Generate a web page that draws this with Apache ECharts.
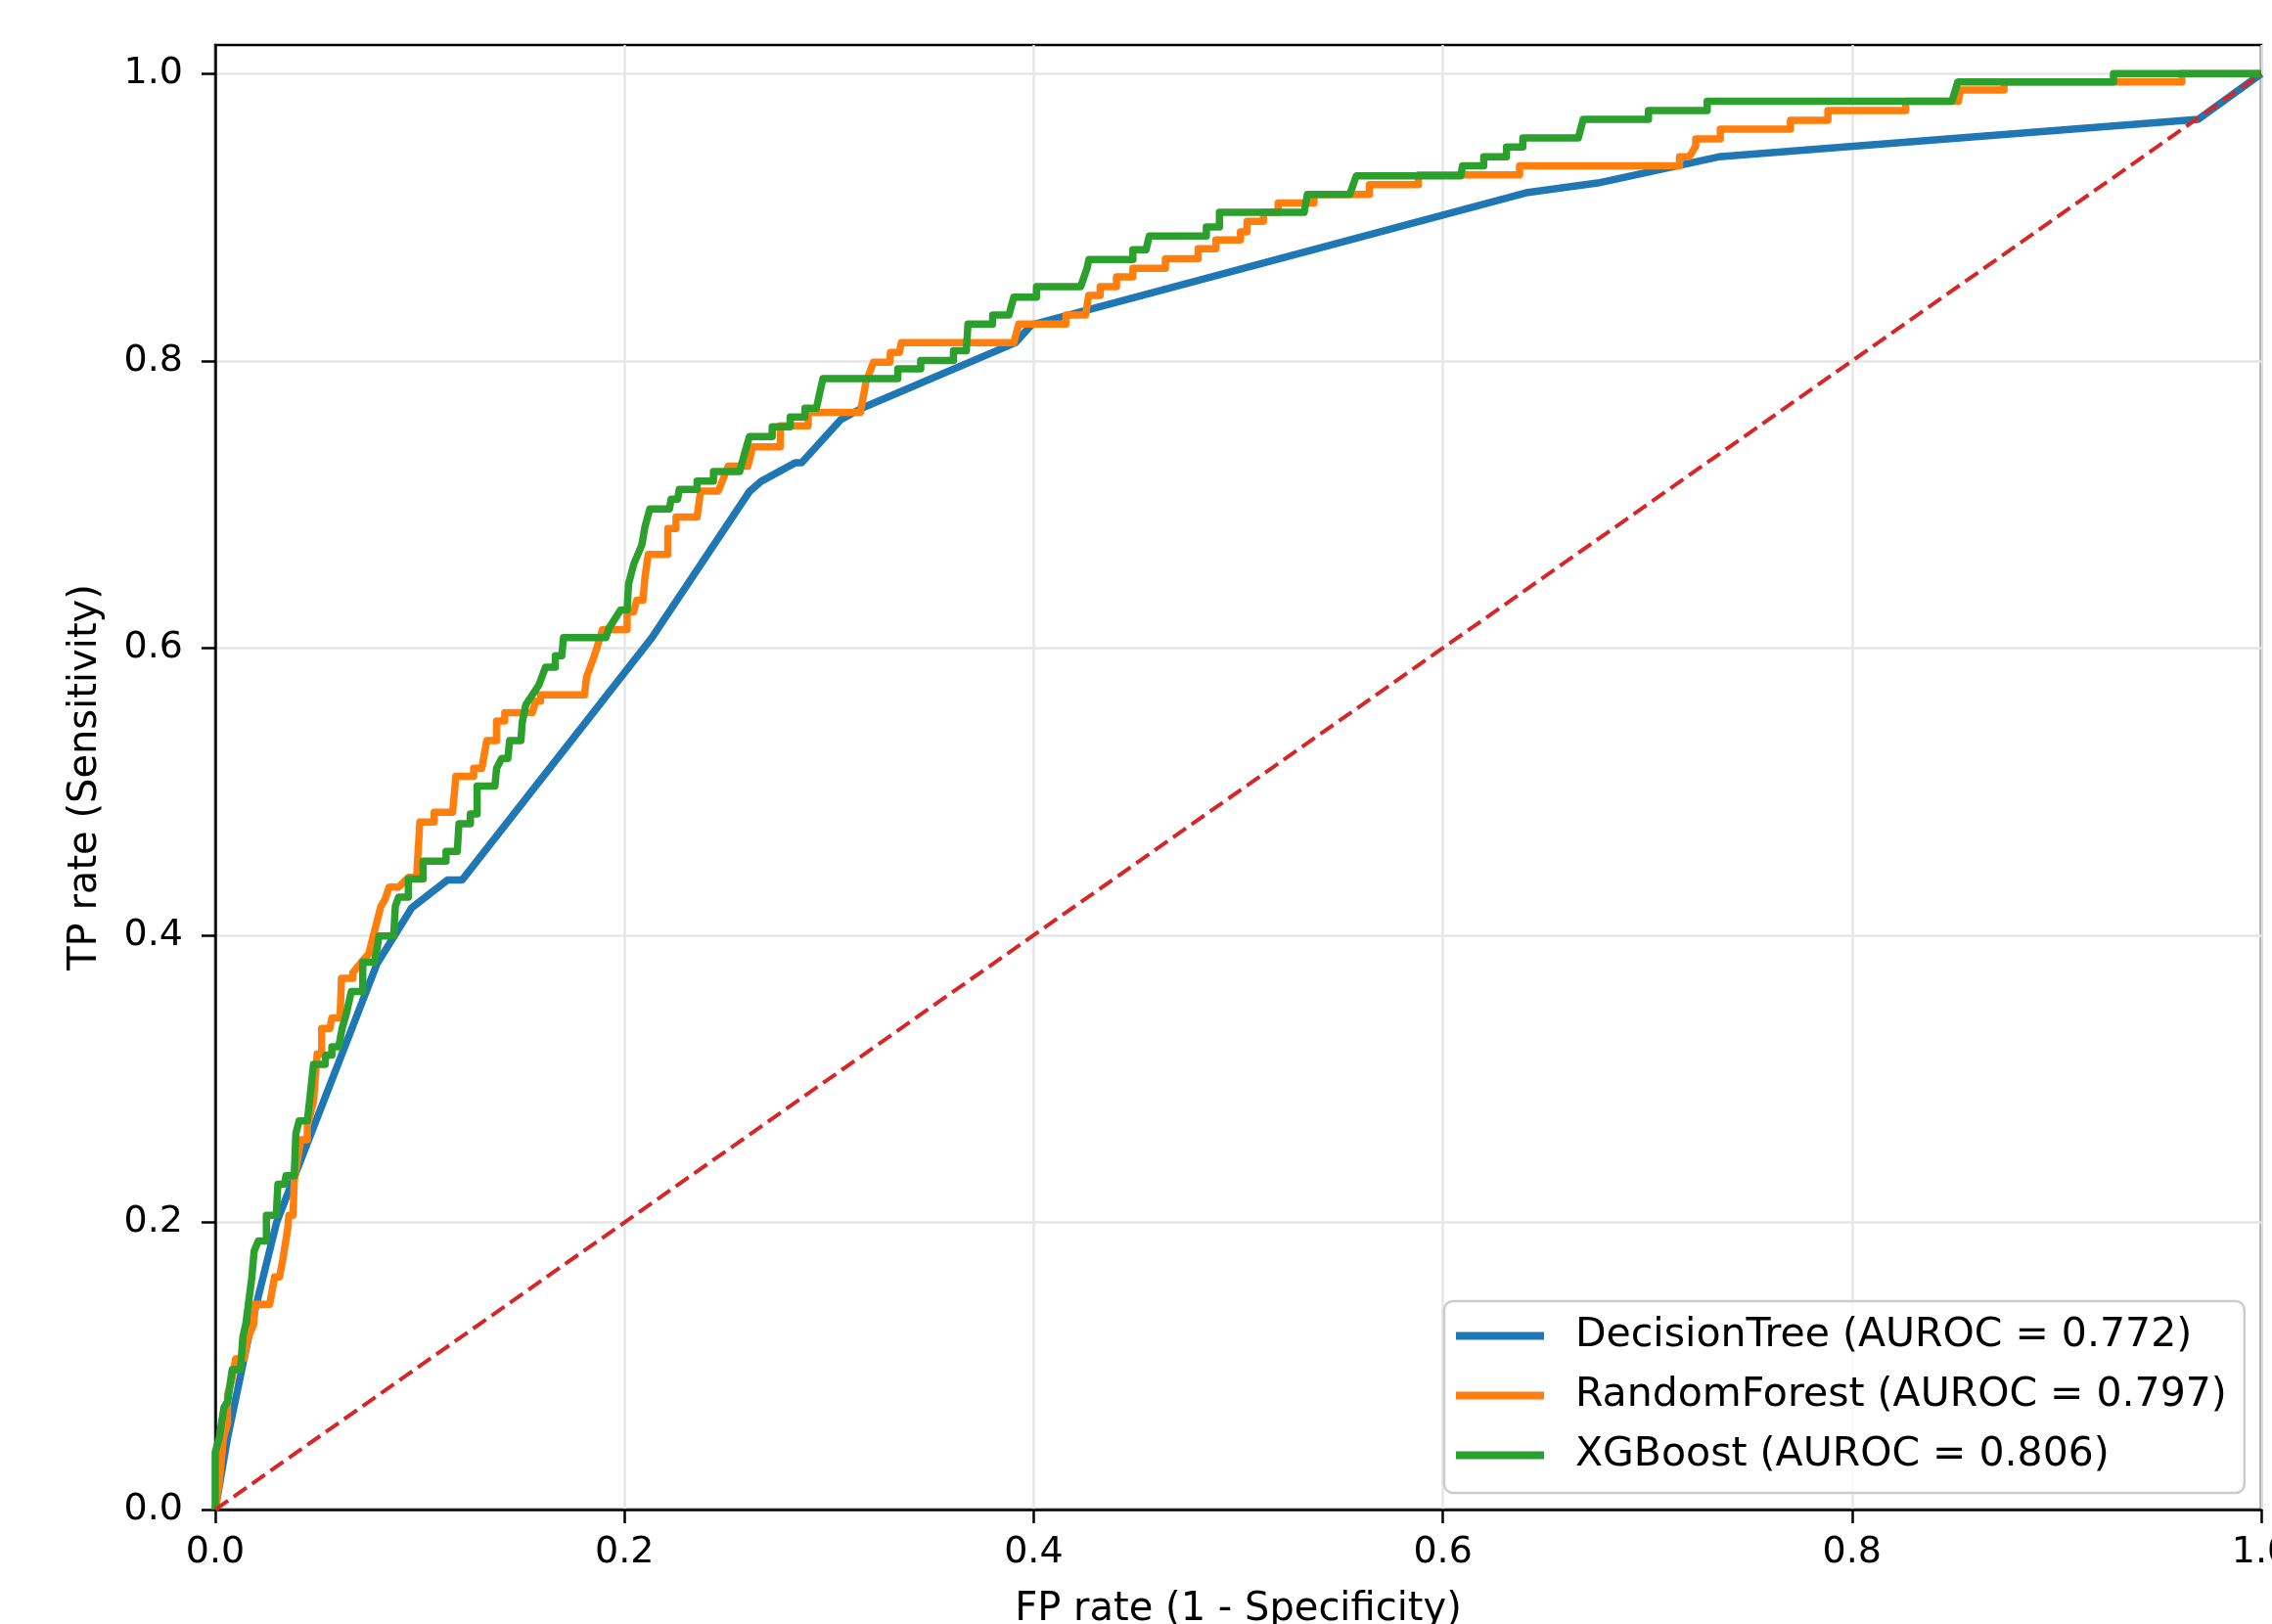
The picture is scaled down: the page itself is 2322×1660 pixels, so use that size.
<!DOCTYPE html>
<html>
<head>
<meta charset="utf-8">
<script src="https://cdn.jsdelivr.net/npm/echarts@6/dist/echarts.min.js"></script>
<style>
html,body{margin:0;padding:0;background:#fff;}
#chart{width:2322px;height:1660px;}
</style>
</head>
<body>
<div id="chart"></div>
<script>
// ---- data ----
const seriesNames = ['DecisionTree (AUROC = 0.772)', 'RandomForest (AUROC = 0.797)', 'XGBoost (AUROC = 0.806)'];
const xTicks = [0, 0.2, 0.4, 0.6, 0.8, 1.0];
const yTicks = [0, 0.2, 0.4, 0.6, 0.8, 1.0];

const decisionTree = [[0,0],[0.006,0.05],[0.017,0.125],[0.03,0.2],[0.079,0.38],[0.096,0.419],[0.1135,0.4385],[0.1207,0.4385],[0.2133,0.607],[0.2611,0.709],[0.2667,0.716],[0.2834,0.729],[0.2866,0.729],[0.3057,0.759],[0.316,0.767],[0.391,0.8126],[0.399,0.8251],[0.6407,0.9171],[0.6757,0.9239],[0.7348,0.9421],[0.9692,0.9682],[1,1]];

const randomForest = [[0,0],[0.002,0.02],[0.004,0.05],[0.006,0.06],[0.006,0.08],[0.008,0.09],[0.01,0.105],[0.014,0.105],[0.016,0.12],[0.0187,0.1285],[0.0195,0.1429],[0.0266,0.1429],[0.029,0.162],[0.0314,0.162],[0.033,0.174],[0.0354,0.1955],[0.036,0.205],[0.038,0.205],[0.0386,0.229],[0.0418,0.2576],[0.045,0.2576],[0.045,0.267],[0.048,0.284],[0.0498,0.3173],[0.052,0.3173],[0.052,0.335],[0.056,0.335],[0.057,0.3424],[0.061,0.3424],[0.0617,0.37],[0.0673,0.37],[0.0673,0.374],[0.0713,0.381],[0.075,0.387],[0.0809,0.42],[0.083,0.425],[0.085,0.4335],[0.0896,0.4335],[0.0944,0.4403],[0.0984,0.4403],[0.1,0.4789],[0.107,0.4789],[0.107,0.4857],[0.116,0.4857],[0.1176,0.5107],[0.1263,0.5107],[0.1263,0.5163],[0.1303,0.5163],[0.1327,0.5356],[0.1375,0.5356],[0.1375,0.5492],[0.1415,0.5492],[0.1415,0.555],[0.155,0.555],[0.1566,0.5629],[0.159,0.5629],[0.159,0.5674],[0.1805,0.5674],[0.1815,0.58],[0.1853,0.5947],[0.1893,0.6129],[0.2013,0.6129],[0.2013,0.6253],[0.2045,0.6253],[0.206,0.6333],[0.209,0.6333],[0.21,0.649],[0.2116,0.6651],[0.2212,0.6651],[0.2212,0.6833],[0.2252,0.6833],[0.2252,0.6912],[0.2355,0.6912],[0.2372,0.7093],[0.2459,0.7093],[0.2507,0.7267],[0.2603,0.7267],[0.2627,0.7402],[0.2762,0.7402],[0.2762,0.7548],[0.2898,0.7548],[0.2898,0.7641],[0.3153,0.7641],[0.318,0.785],[0.3217,0.799],[0.3297,0.799],[0.33,0.8058],[0.3344,0.8058],[0.3353,0.8127],[0.3903,0.8127],[0.3927,0.8256],[0.4158,0.8256],[0.4158,0.832],[0.4254,0.832],[0.4269,0.8456],[0.4325,0.8456],[0.4325,0.8517],[0.4405,0.8517],[0.4405,0.8585],[0.4485,0.8585],[0.4485,0.8644],[0.4644,0.8644],[0.4644,0.8711],[0.4804,0.8711],[0.4804,0.8781],[0.4891,0.8781],[0.4891,0.8842],[0.5011,0.8842],[0.5011,0.8899],[0.5043,0.8899],[0.5043,0.8971],[0.5123,0.8971],[0.5123,0.9035],[0.5195,0.9035],[0.5195,0.9099],[0.537,0.9099],[0.537,0.916],[0.5641,0.916],[0.5641,0.9228],[0.588,0.9228],[0.588,0.9296],[0.6375,0.9296],[0.6375,0.9358],[0.7157,0.9358],[0.7157,0.9421],[0.7204,0.9421],[0.7236,0.9496],[0.7236,0.9546],[0.7356,0.9546],[0.7356,0.9614],[0.7699,0.9614],[0.7699,0.9675],[0.7882,0.9675],[0.7882,0.9743],[0.8262,0.9743],[0.8262,0.9808],[0.852,0.9808],[0.853,0.9886],[0.8743,0.9886],[0.8743,0.9943],[0.9612,0.9943],[0.9612,1],[1,1]];

const xgboost = [[0,0],[0,0.04],[0.002,0.05],[0.003,0.06],[0.0043,0.0713],[0.006,0.075],[0.0083,0.0975],[0.0123,0.0975],[0.0135,0.12],[0.015,0.13],[0.0179,0.162],[0.019,0.18],[0.021,0.187],[0.025,0.187],[0.025,0.205],[0.0298,0.205],[0.0306,0.2265],[0.0338,0.2265],[0.0346,0.2325],[0.0386,0.2325],[0.0394,0.262],[0.041,0.2707],[0.045,0.2707],[0.0465,0.29],[0.048,0.31],[0.0537,0.31],[0.054,0.3165],[0.057,0.3165],[0.057,0.3222],[0.0603,0.3222],[0.062,0.335],[0.064,0.345],[0.0665,0.3608],[0.0721,0.3608],[0.0721,0.3813],[0.0777,0.3813],[0.079,0.39],[0.08,0.3994],[0.0872,0.3994],[0.088,0.42],[0.0896,0.4266],[0.0944,0.4266],[0.0944,0.4392],[0.1016,0.4392],[0.1016,0.4516],[0.1128,0.4516],[0.1128,0.4584],[0.1183,0.4584],[0.1191,0.4777],[0.1247,0.4777],[0.1247,0.4845],[0.128,0.4845],[0.128,0.5039],[0.1367,0.5039],[0.1375,0.5163],[0.14,0.5232],[0.143,0.5232],[0.1439,0.5356],[0.1494,0.5356],[0.15,0.548],[0.1518,0.5606],[0.155,0.5674],[0.1582,0.5743],[0.1614,0.5867],[0.1662,0.5867],[0.1662,0.5947],[0.1694,0.5947],[0.1702,0.6072],[0.1909,0.6072],[0.1925,0.614],[0.1981,0.6265],[0.2013,0.6265],[0.202,0.6446],[0.2045,0.6583],[0.2085,0.6719],[0.21,0.6844],[0.2124,0.6969],[0.222,0.6969],[0.2228,0.7037],[0.226,0.7037],[0.2268,0.7105],[0.2355,0.7105],[0.2355,0.7162],[0.2435,0.7162],[0.2435,0.7229],[0.2563,0.7229],[0.2587,0.7355],[0.2611,0.7473],[0.2722,0.7473],[0.2722,0.7541],[0.281,0.7541],[0.281,0.7609],[0.2882,0.7609],[0.2882,0.767],[0.2938,0.767],[0.297,0.7877],[0.3336,0.7877],[0.3336,0.7945],[0.3448,0.7945],[0.3448,0.8002],[0.3608,0.8002],[0.3608,0.807],[0.3671,0.807],[0.3679,0.8256],[0.3799,0.8256],[0.38,0.8319],[0.3879,0.8319],[0.3903,0.8444],[0.4014,0.8444],[0.4014,0.8517],[0.423,0.8517],[0.4262,0.865],[0.427,0.8706],[0.4485,0.8706],[0.4485,0.8774],[0.4549,0.8774],[0.4565,0.8869],[0.4844,0.8869],[0.4844,0.8933],[0.4908,0.8933],[0.4908,0.9035],[0.5322,0.9035],[0.5338,0.916],[0.5545,0.916],[0.5577,0.9289],[0.6088,0.9289],[0.6096,0.9358],[0.62,0.9358],[0.62,0.9421],[0.6311,0.9421],[0.6311,0.949],[0.6391,0.949],[0.6391,0.9553],[0.6662,0.9553],[0.6686,0.9682],[0.7005,0.9682],[0.7005,0.9743],[0.7292,0.9743],[0.7292,0.9808],[0.8488,0.9808],[0.8517,0.9943],[0.9278,0.9943],[0.9278,1],[1,1]];

const chance = [[0,0],[1,1]];

const colors = ['#1f77b4', '#ff7f0e', '#2ca02c', '#d62728'];

// ---- chart ----
const FONT = 'DejaVu Sans';
const chart = echarts.init(document.getElementById('chart'), null, {renderer: 'canvas'});

function curve(name, data, color, z) {
  return {
    name: name, type: 'line', data: data, showSymbol: false, symbol: 'none',
    animation: false, z: z, silent: true,
    lineStyle: {color: color, width: 7.5, join: 'round', cap: 'butt'},
    itemStyle: {color: color}
  };
}

chart.setOption({
  animation: false,
  backgroundColor: '#ffffff',
  textStyle: {fontFamily: FONT},
  grid: {
    left: 220, right: 11, top: 46, bottom: 117,
    containLabel: false, outerBoundsMode: 'none',
    show: true, borderColor: '#000000', borderWidth: 2.5, backgroundColor: 'transparent'
  },
  legend: {
    orient: 'vertical',
    left: 1476, top: 1330,
    padding: [15, 18, 18, 12],
    itemGap: 20,
    itemWidth: 90, itemHeight: 8,
    backgroundColor: 'rgba(255,255,255,0.8)',
    borderColor: '#cccccc', borderWidth: 2.5, borderRadius: 9,
    textStyle: {fontFamily: FONT, fontSize: 41, color: '#000000', padding: [0, 0, 0, 27], lineHeight: 41},
    data: seriesNames.map((n, i) => ({name: n, icon: 'rect', itemStyle: {color: colors[i]}}))
  },
  xAxis: {
    type: 'value', min: 0, max: 1, interval: 0.2,
    name: 'FP rate (1 - Specificity)', nameLocation: 'middle', nameGap: 83,
    nameTextStyle: {fontFamily: FONT, fontSize: 40, color: '#000000'},
    axisLine: {show: true, onZero: false, lineStyle: {color: '#000000', width: 2.5}},
    axisTick: {show: true, inside: false, length: 14, lineStyle: {color: '#000000', width: 2.5}, customValues: xTicks},
    axisLabel: {fontFamily: FONT, fontSize: 38, color: '#000000', margin: 25, customValues: xTicks,
      formatter: v => Number(v).toFixed(1)},
    splitLine: {show: true, lineStyle: {color: '#e6e6e6', width: 2.5}}
  },
  yAxis: {
    type: 'value', min: 0, max: 1.02, interval: 0.2,
    name: 'TP rate (Sensitivity)', nameLocation: 'middle', nameGap: 112, nameRotate: 90,
    nameTextStyle: {fontFamily: FONT, fontSize: 40, color: '#000000'},
    axisLine: {show: true, onZero: false, lineStyle: {color: '#000000', width: 2.5}},
    axisTick: {show: true, inside: false, length: 14, lineStyle: {color: '#000000', width: 2.5}, customValues: yTicks},
    axisLabel: {fontFamily: FONT, fontSize: 38, color: '#000000', margin: 33, customValues: yTicks,
      formatter: v => Number(v).toFixed(1)},
    splitLine: {show: true, lineStyle: {color: '#e6e6e6', width: 2.5}}
  },
  series: [
    curve(seriesNames[0], decisionTree, colors[0], 2),
    curve(seriesNames[1], randomForest, colors[1], 3),
    curve(seriesNames[2], xgboost, colors[2], 4),
    {
      name: 'chance', type: 'line', data: chance, showSymbol: false, symbol: 'none',
      animation: false, z: 5, silent: true,
      lineStyle: {color: colors[3], width: 4, type: [16, 7]}
    }
  ]
});
</script>
</body>
</html>
